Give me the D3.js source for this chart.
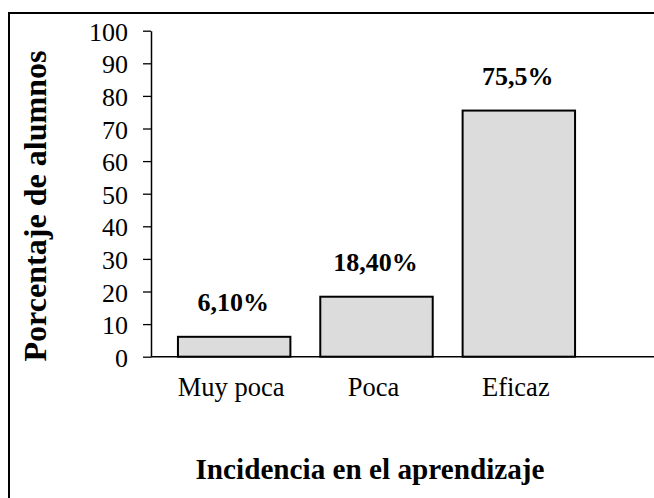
<!DOCTYPE html>
<html>
<head>
<meta charset="utf-8">
<script src="https://cdn.jsdelivr.net/npm/d3@7"></script>
<style>
  html, body { margin: 0; padding: 0; background: #fff; }
  svg { display: block; }
</style>
</head>
<body>
<svg id="chart" width="654" height="498"></svg>
<script>
const categories = ["Muy poca", "Poca", "Eficaz"];
const values = [6.1, 18.4, 75.5];
const valueLabels = ["6,10%", "18,40%", "75,5%"];
const yTicks = [0, 10, 20, 30, 40, 50, 60, 70, 80, 90, 100];
const yTitle = "Porcentaje de alumnos";
const xTitle = "Incidencia en el aprendizaje";

const FONT = '"Liberation Serif"';
const svg = d3.select("#chart");
const W = 654, H = 498;

// Outer frame
svg.append("rect")
  .attr("x", 9).attr("y", 13).attr("width", 700).attr("height", 600)
  .attr("fill", "none").attr("stroke", "#000").attr("stroke-width", 2);

const x0 = 151;
const y = d3.scaleLinear().domain([0, 100]).range([356.7, 30.7]);
const x = d3.scaleBand().domain(categories).range([163, 590])
  .paddingInner(0.21).paddingOuter(0.105);

// Y axis
const yAxis = svg.append("g")
  .attr("transform", `translate(${x0},0)`)
  .call(d3.axisLeft(y).tickValues(yTicks).tickSize(8).tickSizeOuter(0).tickPadding(15));
yAxis.select(".domain").attr("stroke", "#000").attr("stroke-width", 1.5);
yAxis.selectAll(".tick line").attr("stroke", "#000").attr("stroke-width", 1.3);
yAxis.selectAll(".tick text")
  .style("font-family", FONT)
  .style("font-size", "26px")
  .attr("fill", "#000")
  .attr("dy", null)
  .attr("y", 9.5)
  .attr("x", -23);

// Bars
svg.append("g").selectAll("rect")
  .data(values)
  .join("rect")
  .attr("x", (d, i) => x(categories[i]))
  .attr("y", d => y(d))
  .attr("width", x.bandwidth())
  .attr("height", d => y(0) - y(d))
  .attr("fill", "#dcdcdc")
  .attr("stroke", "#000")
  .attr("stroke-width", 2);

// Baseline (x axis)
svg.append("line")
  .attr("x1", x0).attr("x2", W)
  .attr("y1", y(0)).attr("y2", y(0))
  .attr("stroke", "#000").attr("stroke-width", 1.5);

// Value labels
svg.append("g").selectAll("text")
  .data(values)
  .join("text")
  .attr("x", (d, i) => x(categories[i]) + x.bandwidth() / 2 - 1)
  .attr("y", d => y(d) - 26)
  .attr("text-anchor", "middle")
  .style("font-family", FONT)
  .style("font-size", "26px")
  .style("font-weight", "bold")
  .text((d, i) => valueLabels[i]);

// Category labels
svg.append("g").selectAll("text")
  .data(categories)
  .join("text")
  .attr("x", d => x(d) + x.bandwidth() / 2 - 3)
  .attr("y", 396)
  .attr("text-anchor", "middle")
  .style("font-family", FONT)
  .style("font-size", "26.5px")
  .text(d => d);

// Y title
svg.append("text")
  .attr("transform", "translate(46,206) rotate(-90)")
  .attr("text-anchor", "middle")
  .style("font-family", FONT)
  .style("font-size", "31px")
  .style("font-weight", "bold")
  .attr("textLength", 311)
  .attr("lengthAdjust", "spacingAndGlyphs")
  .text(yTitle);

// X title
svg.append("text")
  .attr("x", 370)
  .attr("y", 479)
  .attr("text-anchor", "middle")
  .style("font-family", FONT)
  .style("font-size", "29.5px")
  .style("font-weight", "bold")
  .attr("textLength", 349)
  .attr("lengthAdjust", "spacingAndGlyphs")
  .text(xTitle);
</script>
</body>
</html>
